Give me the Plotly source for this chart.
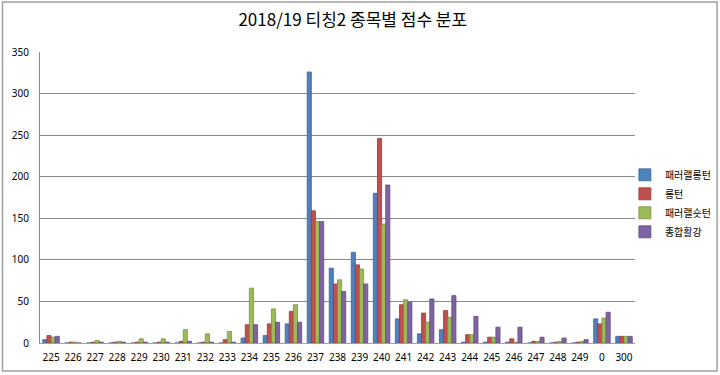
import plotly.graph_objects as go

categories = ["225", "226", "227", "228", "229", "230", "231", "232", "233", "234",
              "235", "236", "237", "238", "239", "240", "241", "242", "243", "244",
              "245", "246", "247", "248", "249", "0", "300"]
series_names = ["패러랠롱턴", "롱턴", "패러랠숏턴", "종합활강"]
parallel_long = [4, 0, 0, 0, 0, 0, 0, 0, 0, 6, 9, 23, 326, 90, 109, 180, 29, 11, 16, 1, 1, 1, 0, 0, 0, 29, 8]
long_turn = [9, 1, 1, 1, 1, 1, 2, 1, 4, 22, 23, 38, 159, 71, 94, 246, 46, 36, 39, 10, 7, 5, 2, 1, 1, 23, 8]
parallel_short = [7, 1, 3, 2, 5, 5, 16, 11, 14, 66, 41, 46, 146, 76, 89, 143, 52, 25, 31, 10, 7, 1, 2, 2, 2, 30, 8]
overall = [8, 0, 1, 1, 1, 1, 2, 1, 1, 22, 25, 25, 146, 62, 71, 190, 49, 53, 57, 32, 19, 19, 7, 6, 4, 37, 8]
y_ticks = [0, 50, 100, 150, 200, 250, 300, 350]

colors = ["#4F81BD", "#C0504D", "#9BBB59", "#8064A2"]
line_colors = ["#3A6597", "#973B39", "#76903F", "#5F4A7B"]
values = [parallel_long, long_turn, parallel_short, overall]

fig = go.Figure()
for name, vals, c, lc in zip(series_names, values, colors, line_colors):
    fig.add_trace(go.Bar(
        x=categories, y=vals, name=name,
        marker=dict(color=c, line=dict(color=lc, width=0.8)),
    ))

fig.update_layout(
    width=720, height=375,
    paper_bgcolor="white", plot_bgcolor="white",
    margin=dict(l=40, r=85, t=52, b=32, autoexpand=False),
    barmode="group", bargap=0.25, bargroupgap=0.0,
    font=dict(family="Noto Sans CJK KR, Noto Sans, sans-serif", color="#000000"),
    title=dict(text="2018/19 티칭2 종목별 점수 분포", x=0.49, xref="container", y=0.947,
               xanchor="center", yanchor="middle",
               font=dict(size=17, family="Noto Sans CJK KR, sans-serif", color="#000000")),
    xaxis=dict(type="category", categoryorder="array", categoryarray=categories,
               tickangle=0, automargin=False, ticklabelstandoff=5,
               tickfont=dict(size=10, family="Noto Sans, sans-serif"), showline=True,
               linecolor="#A0A0A0", ticks="", showgrid=False),
    yaxis=dict(range=[0, 350], tickvals=y_ticks, showgrid=True, gridcolor="#8A8A8A",
               gridwidth=1, zeroline=False, showline=True, linecolor="#8A8A8A", ticks="",
               automargin=False, ticklabelstandoff=8,
               tickfont=dict(size=10, family="Noto Sans, sans-serif")),
    legend=dict(x=0.983, y=0.48, xanchor="left", yanchor="middle",
                font=dict(size=10, family="Noto Sans CJK KR, sans-serif"),
                itemwidth=30, tracegroupgap=0, bgcolor="rgba(0,0,0,0)"),
    shapes=[dict(type="rect", xref="paper", yref="paper", x0=-0.063, x1=1.138,
                 y0=-0.096, y1=1.172, line=dict(color="#A0A0A0", width=1.5),
                 fillcolor="rgba(0,0,0,0)")],
)

fig.write_html("out.html", config={"displayModeBar": False},
               post_script="document.body.style.margin='0';document.body.style.overflow='hidden';")
